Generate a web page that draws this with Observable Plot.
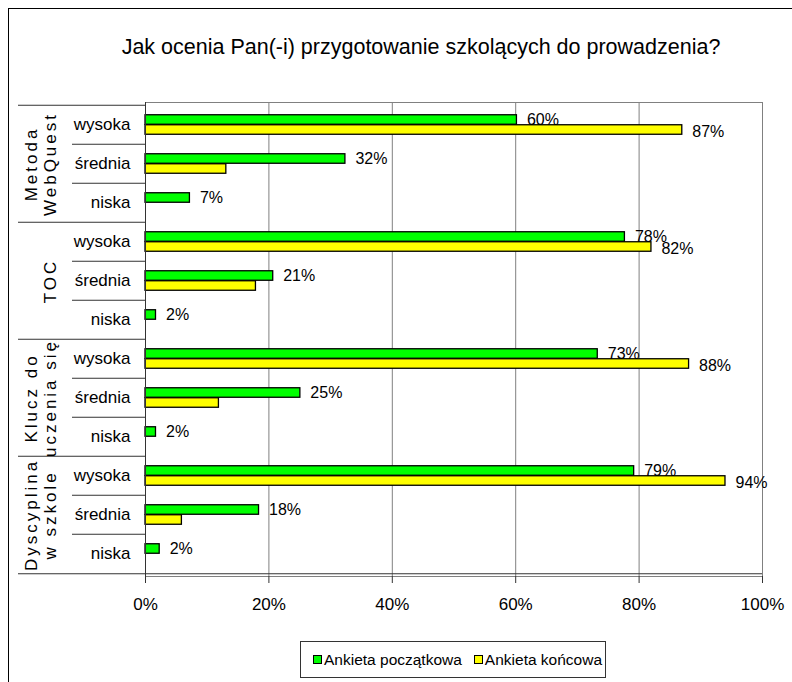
<!DOCTYPE html>
<html><head><meta charset="utf-8">
<script src="https://cdn.jsdelivr.net/npm/d3@7"></script>
<script src="https://cdn.jsdelivr.net/npm/@observablehq/plot@0.6"></script>
<style>
body{margin:0;background:#fff;font-family:"Liberation Sans",Arial,sans-serif;}
#wrap{position:relative;width:792px;height:682px;overflow:hidden;background:#fff;}
#frame{position:absolute;left:8px;top:8px;width:820px;height:720px;border-top:1px solid #000;border-left:1px solid #000;}
#title{position:absolute;left:0;width:842px;top:36px;text-align:center;font-size:21.5px;line-height:22px;color:#000;white-space:nowrap;}
#chart{position:absolute;left:0;top:0;}
#legend{position:absolute;left:300px;top:641px;width:306px;height:37px;box-sizing:border-box;border:1px solid #333;display:flex;align-items:center;padding-left:12px;font-size:15.5px;color:#000;white-space:nowrap;}
#legend .sw{display:inline-block;width:7px;height:7px;border:1px solid #000;margin-right:2px;}
#legend .item{display:flex;align-items:center;}
#legend .item + .item{margin-left:12px;}
</style></head>
<body><div id="wrap"><div id="frame"></div><div id="chart"></div><div id="title"></div><div id="legend"></div></div>
<script>
const title = "Jak ocenia Pan(-i) przygotowanie szkolących do prowadzenia?";
const groups = ["Metoda\nWebQuest", "TOC", "Klucz do\nuczenia się", "Dyscyplina\nw szkole"];
const levels = ["wysoka", "średnia", "niska"];
const seriesNames = ["Ankieta początkowa", "Ankieta końcowa"];
const seriesColors = ["#00ff00", "#ffff00"];
// values per row: group x level (wysoka, średnia, niska)
const poczatkowa = [60.2, 32.4, 7.2, 77.7, 20.7, 1.7, 73.3, 25.1, 1.7, 79.2, 18.4, 2.3];
const koncowa    = [87.0, 13.1, 0,   82.0, 17.9, 0,   88.1, 11.9, 0,   94.0, 5.9,  0];
const xTicks = [0, 20, 40, 60, 80, 100];

const W = 792, H = 682, mT = 102, mB = 106, mL = 145, mR = 30;
const rows = groups.flatMap((g, gi) => levels.map((l, li) => ({key: g + "|" + l, group: g, level: l, gi, li})));
const rowH = (H - mT - mB) / rows.length;
const barH = 10;
const green = rows.map((r, i) => ({...r, value: poczatkowa[i]})).filter(d => d.value > 0);
const yellow = rows.map((r, i) => ({...r, value: koncowa[i]})).filter(d => d.value > 0);
const groupKeys = rows.filter(r => r.li === 0).map(r => r.key);
const innerKeys = rows.filter(r => r.li > 0).map(r => r.key);
const lastKey = rows[rows.length - 1].key;
const groupLabels = rows.filter(r => r.li === 1);

document.getElementById("title").textContent = title;

const svg = Plot.plot({
  width: W, height: H,
  marginTop: mT, marginBottom: mB, marginLeft: mL, marginRight: mR,
  style: {fontFamily: "'Liberation Sans', Arial, sans-serif", background: "transparent", color: "#000", overflow: "visible"},
  x: {domain: [0, 100], label: null},
  y: {domain: rows.map(r => r.key), padding: 0, label: null},
  marks: [
    Plot.frame({stroke: "#808080"}),
    Plot.gridX(xTicks, {stroke: "#808080", strokeOpacity: 1}),
    Plot.barX(green, {x: "value", y: "key", fill: seriesColors[0], stroke: "#000", strokeWidth: 1.3, insetTop: rowH / 2 - barH, insetBottom: rowH / 2}),
    Plot.barX(yellow, {x: "value", y: "key", fill: seriesColors[1], stroke: "#000", strokeWidth: 1.3, insetTop: rowH / 2, insetBottom: rowH / 2 - barH}),
    Plot.text(green, {x: "value", y: "key", text: d => Math.round(d.value) + "%", dx: 10, dy: -barH / 2, textAnchor: "start", fontSize: 16, fill: "#000"}),
    Plot.text(yellow.filter(d => d.li === 0), {x: "value", y: "key", text: d => Math.round(d.value) + "%", dx: 10, dy: barH / 2 + 2, textAnchor: "start", fontSize: 16, fill: "#000"}),
    Plot.ruleX([0], {stroke: "#333"}),
    Plot.ruleY(groupKeys, {x1: 0, x2: 0, dy: -rowH / 2, insetLeft: -127, stroke: "#333"}),
    Plot.ruleY(innerKeys, {x1: 0, x2: 0, dy: -rowH / 2, insetLeft: -73, stroke: "#333"}),
    Plot.ruleY([lastKey], {x1: 0, x2: 100, dy: rowH / 2, insetLeft: -127, stroke: "#333"}),
    Plot.axisX(xTicks, {tickSize: 7, tickPadding: 14, tickFormat: d => d + "%", fontSize: 17, stroke: "#333", fill: "#000", label: null}),
    Plot.axisY({tickSize: 0, tickPadding: 15, tickFormat: k => k.split("|")[1], fontSize: 17, fill: "#000", label: null}),
    Plot.text(groupLabels, {x: 0, y: "key", text: "group", rotate: -90, lineAnchor: "bottom", textAnchor: "middle", lineHeight: 1.06, fontSize: 17, dx: -90, fill: "#000"})
  ]
});
const groupFlat = groups.map(g => g.replace("\n", ""));
svg.querySelectorAll("text").forEach(t => {
  if (groupFlat.includes(t.textContent)) t.style.letterSpacing = "3px";
});
document.getElementById("chart").appendChild(svg);

const legend = document.getElementById("legend");
seriesNames.forEach((name, i) => {
  const item = document.createElement("span");
  item.className = "item";
  const sw = document.createElement("span");
  sw.className = "sw";
  sw.style.background = seriesColors[i];
  const tx = document.createElement("span");
  tx.textContent = name;
  item.appendChild(sw); item.appendChild(tx);
  legend.appendChild(item);
});
</script>
</body></html>
